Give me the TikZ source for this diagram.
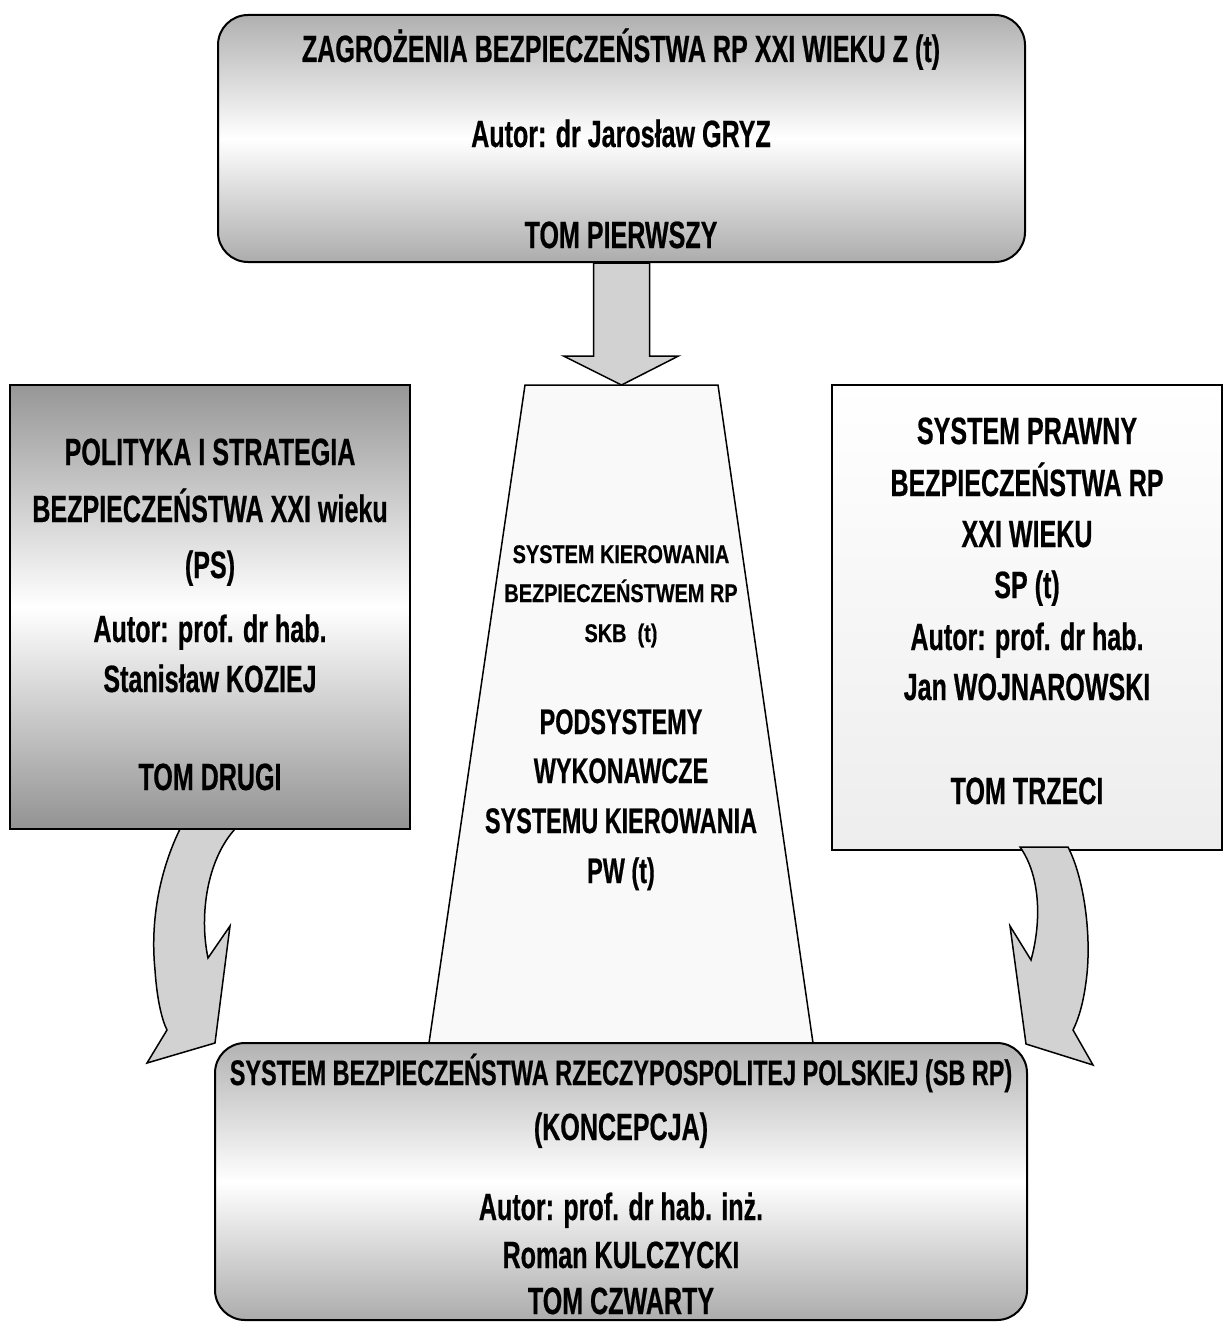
\documentclass[tikz,border=0pt]{standalone}
\usepackage{fontspec}
\setmainfont{Liberation Sans}[FakeStretch=0.66,FakeBold=0.5]
\newfontfamily\smallnarrow{Liberation Sans}[FakeStretch=0.78,FakeBold=0.4]
\usetikzlibrary{calc}
\begin{document}
\begin{tikzpicture}[x=1pt,y=-1pt,
  box/.style={draw=black, line width=2pt, inner sep=0pt},
  txt/.style={anchor=base, inner sep=0pt, font=\bfseries\fontsize{38}{42}\selectfont},
  txtb/.style={anchor=base, inner sep=0pt, font=\bfseries\fontsize{35.5}{40}\selectfont},
  txts/.style={anchor=base, inner sep=0pt, font=\smallnarrow\bfseries\fontsize{25.5}{30}\selectfont},
  blockarrow/.style={draw=black, line width=1.5pt, fill=gray!35, line join=miter},
  trapstyle/.style={draw=black, line width=1.5pt, fill=gray!5}]
\useasboundingbox (0,0) rectangle (1223,1322);
\fill[white] (0,0) rectangle (1223,1322);

% trapezoid
\coordinate (trapTL) at (525,385);
\coordinate (trapTR) at (718,385);
\coordinate (trapBR) at (813,1043);
\coordinate (trapBL) at (429,1043);
\draw[trapstyle] (trapTL) -- (trapTR) -- (trapBR) -- (trapBL) -- cycle;

% boxes
\node[box, rounded corners=30pt, minimum width=807pt, minimum height=247pt,
      top color=gray!62, bottom color=gray!65, middle color=white] (top) at (621.5,138.5) {};
\node[box, minimum width=400pt, minimum height=444pt,
      top color=gray!82, bottom color=gray!85, middle color=white] (ps) at (210,607) {};
\node[box, minimum width=390pt, minimum height=465pt,
      top color=white, bottom color=gray!14] (sp) at (1027,617.5) {};
\node[box, rounded corners=30pt, minimum width=812pt, minimum height=277pt,
      top color=gray!60, bottom color=gray!65, middle color=white] (sb) at (621,1181.5) {};

% down arrow from top box to trapezoid
\coordinate (tip) at ($(trapTL)!0.5!(trapTR)$);
\draw[blockarrow]
  ($(top.south)+(-28,0)$) -- ($(top.south)+(28,0)$) -- ($(tip)+(28,-29)$)
  -- ($(tip)+(57,-29)$) -- (tip) -- ($(tip)+(-58,-29)$) -- ($(tip)+(-28,-29)$) -- cycle;

% left curved arrow (from PS box to SB box)
\draw[blockarrow]
  (180,829) .. controls (160,870) and (150,920) .. (155,970)
  .. controls (157,1000) and (162,1020) .. (167,1030)
  -- (147,1063) -- (215,1043) -- (230,926) -- (208,958)
  .. controls (199,915) and (207,860) .. (235,829) -- cycle;

% right curved arrow (from SP box to SB box)
\draw[blockarrow]
  (1020,847) -- (1068,847) .. controls (1085,880) and (1092,940) .. (1086,982)
  .. controls (1083,1005) and (1078,1020) .. (1073,1030)
  -- (1093,1065) -- (1026,1044) -- (1010,926) -- (1031,960)
  .. controls (1042,920) and (1040,875) .. (1020,847) -- cycle;

% top box texts
\node[txt] (t1) at (621,62) {ZAGROŻENIA BEZPIECZEŃSTWA RP XXI WIEKU Z (t)};
\node[txt] (t2) at (621,147) {Autor: dr Jarosław GRYZ};
\node[txt] (t3) at (621,248) {TOM PIERWSZY};

% left box texts
\node[txt] (l1) at (210,465) {POLITYKA I STRATEGIA};
\node[txt] (l2) at (210,522) {BEZPIECZEŃSTWA XXI wieku};
\node[txt] (l3) at (210,578) {(PS)};
\node[txt] (l4) at (210,642) {Autor: prof. dr hab.};
\node[txt] (l5) at (210,692) {Stanisław KOZIEJ};
\node[txt] (l6) at (210,790) {TOM DRUGI};

% right box texts
\node[txt] (r1) at (1027,444) {SYSTEM PRAWNY};
\node[txt] (r2) at (1027,496) {BEZPIECZEŃSTWA RP};
\node[txt] (r3) at (1027,547) {XXI WIEKU};
\node[txt] (r4) at (1027,598) {SP (t)};
\node[txt] (r5) at (1027,650) {Autor: prof. dr hab.};
\node[txt] (r6) at (1027,700) {Jan WOJNAROWSKI};
\node[txt] (r7) at (1027,804) {TOM TRZECI};

% trapezoid texts
\node[txts] (c1) at (621,563) {SYSTEM KIEROWANIA};
\node[txts] (c2) at (621,602) {BEZPIECZEŃSTWEM RP};
\node[txts] (c3) at (621,642) {SKB\ \ (t)};
\node[txtb] (c4) at (621,734) {PODSYSTEMY};
\node[txtb] (c5) at (621,783) {WYKONAWCZE};
\node[txtb] (c6) at (621,833) {SYSTEMU KIEROWANIA};
\node[txtb] (c7) at (621,883) {PW (t)};

% bottom box texts
\node[txtb] (b1) at (621,1085) {SYSTEM BEZPIECZEŃSTWA RZECZYPOSPOLITEJ POLSKIEJ (SB RP)};
\node[txt] (b2) at (621,1140) {(KONCEPCJA)};
\node[txt] (b3) at (621,1220) {Autor: prof. dr hab. inż.};
\node[txt] (b4) at (621,1268) {Roman KULCZYCKI};
\node[txt] (b5) at (621,1314) {TOM CZWARTY};
\end{tikzpicture}
\end{document}
